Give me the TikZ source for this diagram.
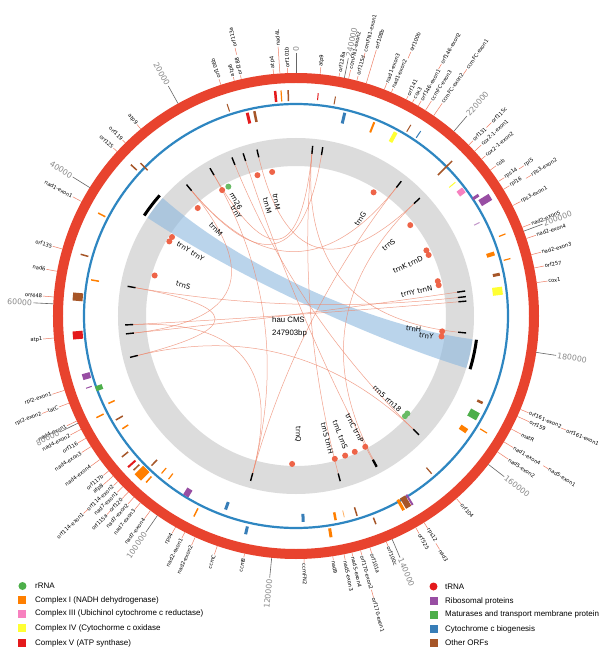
\documentclass[tikz,border=0pt]{standalone}
\usepackage{fontspec}
\setmainfont{Liberation Sans}
\newfontfamily\djv{DejaVu Sans}
\usepackage{xcolor}
\usepackage{tikz}

\definecolor{ringred}{HTML}{E8432E}
\definecolor{ringblue}{HTML}{2E86C1}
\definecolor{graytrack}{HTML}{DCDCDC}
\definecolor{ribbonblue}{HTML}{8CB8DF}
\definecolor{chordc}{HTML}{EE8A70}
\definecolor{dotc}{HTML}{EE6448}
\definecolor{leadc}{HTML}{EE7F66}
\definecolor{tickgray}{HTML}{8A8A8A}
\definecolor{setred}{HTML}{E41A1C}
\definecolor{setblue}{HTML}{377EB8}
\definecolor{setgreen}{HTML}{4DAF4A}
\definecolor{setpurple}{HTML}{984EA3}
\definecolor{setorange}{HTML}{FF7F00}
\definecolor{setyellow}{HTML}{FFFF33}
\definecolor{setbrown}{HTML}{A65628}
\definecolor{setpink}{HTML}{F781BF}

\begin{document}
\begin{tikzpicture}[x=1pt, y=1pt,
  lead/.style={leadc, line width=0.5pt},
  glab/.style={font=\djv\fontsize{5.2}{6}\selectfont, text=black, inner sep=0.5pt},
  maj/.style={black!60, line width=0.6pt},
  tlab/.style={font=\djv\fontsize{7.8}{9}\selectfont, text=tickgray, inner sep=1pt},
  chord/.style={chordc, line width=0.5pt, opacity=0.8},
  rmark/.style={black, line width=1.4pt},
  tdot/.style={circle, fill=dotc, inner sep=0pt, minimum size=6pt},
  rdot/.style={circle, fill=setgreen!85!white, inner sep=0pt, minimum size=6pt},
  tlabel/.style={font=\djv\fontsize{7}{8}\selectfont, inner sep=0.8pt},
  legtext/.style={font=\fontsize{8}{9}\selectfont, anchor=west, inner sep=0pt},
  legbox/.style={minimum size=8pt, inner sep=0pt}
]
\useasboundingbox (-296,-332) rectangle (304,316);
\fill[white] (-296,-332) rectangle (304,316);

\draw[graytrack, line width=28pt] (0,0) circle (164);

\fill[ribbonblue, opacity=0.6] (138.5:178) arc[start angle=138.5, end angle=146.5, radius=178] .. controls (146.5:75) and (-17:75) .. (-17:178) arc[start angle=-17, end angle=-7.5, radius=178] .. controls (-7.5:75) and (138.5:75) .. (138.5:178) -- cycle;
\draw[black, line width=3pt] (138.5:182) arc[start angle=138.5, end angle=146.5, radius=182];
\draw[black, line width=3pt] (-17:182) arc[start angle=-17, end angle=-7.5, radius=182];

\draw[chord] (108:166) .. controls (108:55) and (-62:55) .. (-62:166);
\draw[chord] (84.4:166) .. controls (84.4:55) and (-75:55) .. (-75:166);
\draw[chord] (120.2:166) .. controls (120.2:55) and (84.4:55) .. (84.4:166);
\draw[chord] (129.8:166) .. controls (129.8:55) and (52:55) .. (52:166);
\draw[chord] (103.2:166) .. controls (103.2:55) and (43.6:55) .. (43.6:166);
\draw[chord] (170:166) .. controls (170:55) and (6.5:55) .. (6.5:166);
\draw[chord] (183:166) .. controls (183:55) and (5:55) .. (5:166);
\draw[chord] (186:166) .. controls (186:55) and (8.4:55) .. (8.4:166);
\draw[chord] (194:166) .. controls (194:55) and (-44:55) .. (-44:166);
\draw[chord] (254.6:166) .. controls (254.6:55) and (120.2:55) .. (120.2:166);
\draw[chord] (254.6:166) .. controls (254.6:55) and (52:55) .. (52:166);
\draw[chord] (84.4:166) .. controls (84.4:55) and (-5.7:55) .. (-5.7:166);
\draw[chord] (43.6:166) .. controls (43.6:55) and (-61.7:55) .. (-61.7:166);
\draw[chord] (129.8:166) .. controls (129.8:55) and (186:55) .. (186:166);
\draw[chord] (170:166) .. controls (170:55) and (194:55) .. (194:166);
\draw[chord] (112:166) .. controls (112:55) and (-44:55) .. (-44:166);
\draw[chord] (81:166) .. controls (81:55) and (129.8:55) .. (129.8:166);
\draw[chord] (183:166) .. controls (183:55) and (254.6:55) .. (254.6:166);

\draw[rmark] (129.8:163) -- (129.8:171);
\draw[rmark] (120.2:163) -- (120.2:171);
\draw[rmark] (112:163) -- (112:171);
\draw[rmark] (108:163) -- (108:171);
\draw[rmark] (103.2:163) -- (103.2:171);
\draw[rmark] (84.4:163) -- (84.4:171);
\draw[rmark] (81:163) -- (81:171);
\draw[rmark] (52:163) -- (52:171);
\draw[rmark] (43.6:163) -- (43.6:171);
\draw[rmark] (8.4:163) -- (8.4:171);
\draw[rmark] (6.5:163) -- (6.5:171);
\draw[rmark] (5:163) -- (5:171);
\draw[rmark] (-5.7:163) -- (-5.7:171);
\draw[rmark] (-44:163) -- (-44:171);
\draw[rmark] (-61.7:163) -- (-61.7:171);
\draw[rmark] (-62:163) -- (-62:171);
\draw[rmark] (-75:163) -- (-75:171);
\draw[rmark] (254.6:163) -- (254.6:171);
\draw[rmark] (194:163) -- (194:171);
\draw[rmark] (186:163) -- (186:171);
\draw[rmark] (183:163) -- (183:171);
\draw[rmark] (170:163) -- (170:171);

\draw[ringred, line width=10pt] (0,0) circle (238);
\draw[ringblue, line width=2.2pt] (0,0) circle (212);

\draw[setbrown, line width=1.5pt] (92:215) -- (92:226);
\draw[setred, line width=2.5pt] (95.3:215) -- (95.3:226);
\draw[setorange, line width=1.2pt] (93.8:215) -- (93.8:226);
\draw[setred, line width=3pt] (103.5:198) -- (103.5:209);
\draw[setbrown, line width=2.5pt] (101.5:198) -- (101.5:209);
\draw[setbrown, line width=1pt] (108:215) -- (108:223);
\draw[setred, line width=1pt] (84.3:217) -- (84.3:224);
\draw[setblue, line width=3pt] (76.5:198) -- (76.5:209);
\draw[setbrown, line width=1pt] (79.8:215) -- (79.8:223);
\draw[setorange, line width=2pt] (68:198) -- (68:209);
\draw[setyellow, line width=4pt] (61.5:198) -- (61.5:209);
\draw[setbrown, line width=1pt] (59:215) -- (59:223);
\draw[setblue, line width=1pt] (56:215) -- (56:223);
\draw[setbrown, line width=1.5pt] (44.8:200) -- (44.8:220);
\draw[setyellow, line width=1pt] (40:200) -- (40:208);
\draw[setpink, line width=6pt] (36.9:203) -- (36.9:210);
\draw[setpurple, line width=3pt] (33.5:212) -- (33.5:219);
\draw[setpurple, line width=7pt] (31.5:216) -- (31.5:228);
\draw[setpurple!60, line width=1pt] (27:200) -- (27:206);
\draw[setorange, line width=1.2pt] (21.4:218) -- (21.4:225);
\draw[setorange, line width=4pt] (17.5:200) -- (17.5:208);
\draw[setorange, line width=1.2pt] (15:215) -- (15:222);
\draw[setbrown, line width=3pt] (11.6:201) -- (11.6:208);
\draw[setyellow, line width=8pt] (7:198) -- (7:208);
\draw[setbrown, line width=2.5pt] (-25:200) -- (-25:206);
\draw[setgreen, line width=8pt] (-29:198) -- (-29:208);
\draw[setorange, line width=5pt] (-34:198) -- (-34:206);
\draw[setorange, line width=1.2pt] (-31.5:216) -- (-31.5:224);
\draw[setbrown, line width=1.2pt] (-49.3:200) -- (-49.3:208);
\draw[setbrown, line width=6pt] (-59.5:210) -- (-59.5:222);
\draw[setpurple, line width=2pt] (-58.3:210) -- (-58.3:222);
\draw[setorange, line width=3pt] (-61:210) -- (-61:222);
\draw[setblue, line width=3pt] (250:198) -- (250:206);
\draw[setblue, line width=3pt] (257:216) -- (257:224);
\draw[setblue, line width=3pt] (-88:198) -- (-88:206);
\draw[setorange, line width=3pt] (-81:215) -- (-81:224);
\draw[setorange, line width=2.5pt] (-79:200) -- (-79:208);
\draw[setorange!60, line width=0.8pt] (-76.5:200) -- (-76.5:207);
\draw[setbrown, line width=1.5pt] (-73:200) -- (-73:209);
\draw[setbrown, line width=1.5pt] (-69:216) -- (-69:223);
\draw[setpurple, line width=6pt] (238.5:203) -- (238.5:211);
\draw[setorange, line width=1.5pt] (243:216) -- (243:225);
\draw[setorange, line width=9pt] (225.6:214) -- (225.6:226);
\draw[setred, line width=2pt] (222:216) -- (222:226);
\draw[setbrown, line width=1.5pt] (226:200) -- (226:208);
\draw[setbrown, line width=1.5pt] (219:216) -- (219:224);
\draw[setbrown, line width=1.5pt] (223.5:216) -- (223.5:224);
\draw[setorange, line width=1.5pt] (228:216) -- (228:224);
\draw[setorange, line width=1.2pt] (229.5:200) -- (229.5:207);
\draw[setorange, line width=1.2pt] (232:200) -- (232:207);
\draw[setbrown, line width=1.5pt] (164:216) -- (164:224);
\draw[setorange, line width=1.5pt] (170:200) -- (170:208);
\draw[setbrown, line width=8pt] (175:214) -- (175:224);
\draw[setred, line width=8pt] (185:214) -- (185:224);
\draw[setpurple, line width=6pt] (196:214) -- (196:222);
\draw[setgreen, line width=5pt] (200:206) -- (200:213);
\draw[setpurple, line width=1pt] (199:216) -- (199:222);
\draw[setorange, line width=1.5pt] (205:200) -- (205:207);
\draw[setorange, line width=1.5pt] (207:216) -- (207:224);
\draw[setbrown, line width=1.5pt] (210:200) -- (210:208);
\draw[setorange, line width=1.5pt] (213:200) -- (213:207);
\draw[setbrown, line width=1.5pt] (137.5:216) -- (137.5:224);
\draw[setbrown, line width=1.5pt] (135.5:208) -- (135.5:218);
\draw[setorange, line width=1.5pt] (152.5:215) -- (152.5:223);

\node[tdot] (d1) at (99.4:146) {};
\node[tdot] (d2) at (105.3:146) {};
\node[tdot] (d3) at (120.4:146) {};
\node[tdot] (d4) at (132.3:146) {};
\node[tdot] (d5) at (147.5:147) {};
\node[tdot] (d6) at (149.5:147) {};
\node[tdot] (d7) at (164:147) {};
\node[tdot] (d8) at (57.9:146) {};
\node[tdot] (d9) at (38.5:146) {};
\node[tdot] (d10) at (26.7:146) {};
\node[tdot] (d11) at (24.7:146) {};
\node[tdot] (d12) at (13.8:146) {};
\node[tdot] (d13) at (12.2:146) {};
\node[tdot] (d14) at (-6:147) {};
\node[tdot] (d15) at (-8:147) {};
\node[tdot] (d16) at (-62.1:148) {};
\node[tdot] (d17) at (-66.6:148) {};
\node[tdot] (d18) at (-70.6:148) {};
\node[tdot] (d19) at (-74.8:148) {};
\node[tdot] (d20) at (-91.5:148) {};
\node[rdot] (r1) at (117.6:146) {};
\node[rdot] (r2) at (-41.2:148) {};
\node[rdot] (r3) at (-42.6:148) {};

\node[tlabel, rotate=-80.3, anchor=west] (tM1) at (99.7:125) {trnM};
\node[tlabel, rotate=-75.4, anchor=west] (tM2) at (104.6:123) {trnM};
\node[tlabel, rotate=-62.4, anchor=west] (rr26) at (117.6:140) {rrn26};
\node[tlabel, rotate=-60, anchor=west] (tY1) at (120:128) {trnY};
\node[tlabel, rotate=-47.2, anchor=west] (tM3) at (132.8:127) {trnM};
\node[tlabel, rotate=-31.5, anchor=west] (tYY) at (148.5:140) {trnY trnY};
\node[tlabel, rotate=-15.3, anchor=west] (tS1) at (164.7:125) {trnS};
\node[tlabel, rotate=56.4, anchor=east] (tG) at (56.4:125) {trnG};
\node[tlabel, rotate=37.5, anchor=east] (tS2) at (37.5:125) {trnS};
\node[tlabel, rotate=24.5, anchor=east] (tKD) at (24.5:140) {trnK trnD};
\node[tlabel, rotate=11.5, anchor=east] (tYN) at (11.5:140) {trnY trnN};
\node[tlabel, rotate=-6.3, anchor=east] (tH) at (-6.3:127) {trnH};
\node[tlabel, rotate=-8.7, anchor=east] (tY3) at (-8.7:140) {trnY};
\node[tlabel, rotate=-42.3, anchor=east] (rr518) at (-42.3:142) {rrn5 rrn18};
\node[tlabel, rotate=-62.4, anchor=east] (tCP) at (-62.4:143) {trnC trnP};
\node[tlabel, rotate=-69.6, anchor=east] (tLS) at (-69.6:143) {trnL trnS};
\node[tlabel, rotate=-75.7, anchor=east] (tSH) at (-75.7:143) {trnS trnH};
\node[tlabel, rotate=-89, anchor=east] (tQ) at (-89:127) {trnQ};

\draw[lead] (92:243) -- (92:248) node[glab, rotate=92, anchor=west] (orf101b) {orf101b};
\draw[lead] (95.3:243) -- (95.3:248) node[glab, rotate=95.3, anchor=west] (atp4) {atp4};
\draw[lead] (93.8:243) -- (93.8:270) node[glab, rotate=93.8, anchor=west] (nad4L) {nad4L};
\draw[lead] (103:243) -- (103:247) node[glab, rotate=103, anchor=west] (orf288) {orf288};
\draw[lead] (104.7:243) -- (104.7:247) node[glab, rotate=104.7, anchor=west] (atp6) {atp6};
\draw[lead] (102.8:268) -- (102.8:275) node[glab, rotate=102.8, anchor=west] (orf113a) {orf113a};
\draw[lead] (108:243) -- (108:249) node[glab, rotate=108, anchor=west] (orf106b) {orf106b};
\draw[lead] (84.3:243) -- (84.3:250) node[glab, rotate=84.3, anchor=west] (atp9a) {atp9};
\draw[lead] (79.8:243) -- (79.8:247) node[glab, rotate=79.8, anchor=west] (orf128a) {orf128a};
\draw[lead] (77.5:243) -- (77.5:252) node[glab, rotate=77.5, anchor=west] (ccmFN1e2) {ccmFN1-exon2};
\draw[lead] (75.5:243) -- (75.5:248) node[glab, rotate=75.5, anchor=west] (orf115d) {orf115d};
\draw[lead] (75.3:267) -- (75.3:272) node[glab, rotate=75.3, anchor=west] (ccmFN1e1) {ccmFN1-exon1};
\draw[lead] (73.2:243) -- (73.2:278) node[glab, rotate=73.2, anchor=west] (orf108b) {orf108b};
\draw[lead] (68.7:243) -- (68.7:250) node[glab, rotate=68.7, anchor=west] (nad1e3) {nad1-exon3};
\draw[lead] (66.9:243) -- (66.9:247) node[glab, rotate=66.9, anchor=west] (nad1e2) {nad1-exon2};
\draw[lead] (66.5:281) -- (66.5:288) node[glab, rotate=66.5, anchor=west] (orf100b) {orf100b};
\draw[lead] (63:243) -- (63:247) node[glab, rotate=63, anchor=west] (orf141) {orf141};
\draw[lead] (61.4:243) -- (61.4:247) node[glab, rotate=61.4, anchor=west] (cox3) {cox3};
\draw[lead] (59.8:243) -- (59.8:249) node[glab, rotate=59.8, anchor=west] (orf146e1) {orf146-exon1};
\draw[lead] (60:285) -- (60:291) node[glab, rotate=60, anchor=west] (orf146e2) {orf146-exon2};
\draw[lead] (57.8:243) -- (57.8:254) node[glab, rotate=57.8, anchor=west] (ccmFCe3) {ccmFC-exon3};
\draw[lead] (55.5:243) -- (55.5:258) node[glab, rotate=55.5, anchor=west] (ccmFCe2) {ccmFC-exon2};
\draw[lead] (55.3:294) -- (55.3:300) node[glab, rotate=55.3, anchor=west] (ccmFCe1) {ccmFC-exon1};
\draw[lead] (44.7:243) -- (44.7:249) node[glab, rotate=44.7, anchor=west] (orf131) {orf131};
\draw[lead] (44.7:268) -- (44.7:275) node[glab, rotate=44.7, anchor=west] (orf115c) {orf115c};
\draw[lead] (42.7:243) -- (42.7:252) node[glab, rotate=42.7, anchor=west] (cox21e1) {cox2-1-exon1};
\draw[lead] (40.2:243) -- (40.2:248) node[glab, rotate=40.2, anchor=west] (cox21e2) {cox2-1-exon2};
\draw[lead] (36.9:243) -- (36.9:250) node[glab, rotate=36.9, anchor=west] (cob) {cob};
\draw[lead] (33.6:243) -- (33.6:250) node[glab, rotate=33.6, anchor=west] (rps14) {rps14};
\draw[lead] (33.4:267) -- (33.4:273) node[glab, rotate=33.4, anchor=west] (rpl5) {rpl5};
\draw[lead] (31.4:243) -- (31.4:250) node[glab, rotate=31.4, anchor=west] (rpl16) {rpl16};
\draw[lead] (30.9:268) -- (30.9:274) node[glab, rotate=30.9, anchor=west] (rps3e2) {rps3-exon2};
\draw[lead] (27:243) -- (27:252) node[glab, rotate=27, anchor=west] (rps3e1) {rps3-exon1};
\draw[lead] (21.4:243) -- (21.4:252) node[glab, rotate=21.4, anchor=west] (nad2e5) {nad2-exon5};
\draw[lead] (18.6:243) -- (18.6:253) node[glab, rotate=18.6, anchor=west] (nad2e4) {nad2-exon4};
\draw[lead] (14.6:243) -- (14.6:253) node[glab, rotate=14.6, anchor=west] (nad2e3) {nad2-exon3};
\draw[lead] (11.4:243) -- (11.4:253) node[glab, rotate=11.4, anchor=west] (orf257) {orf257};
\draw[lead] (7.9:243) -- (7.9:254) node[glab, rotate=7.9, anchor=west] (cox1) {cox1};
\draw[lead] (-22.6:243) -- (-22.6:252) node[glab, rotate=-22.6, anchor=west] (orf161e2) {orf161-exon2};
\draw[lead] (-22.9:288) -- (-22.9:293) node[glab, rotate=-22.9, anchor=west] (orf161e1) {orf161-exon1};
\draw[lead] (-24.4:243) -- (-24.4:256) node[glab, rotate=-24.4, anchor=west] (orf159) {orf159};
\draw[lead] (-27.7:243) -- (-27.7:254) node[glab, rotate=-27.7, anchor=west] (matR) {matR};
\draw[lead] (-31.2:243) -- (-31.2:254) node[glab, rotate=-31.2, anchor=west] (nad1e4) {nad1-exon4};
\draw[lead] (-31.2:289) -- (-31.2:295) node[glab, rotate=-31.2, anchor=west] (nad5e1) {nad5-exon1};
\draw[lead] (-34:243) -- (-34:256) node[glab, rotate=-34, anchor=west] (nad5e2) {nad5-exon2};
\draw[lead] (-48.7:243) -- (-48.7:250) node[glab, rotate=-48.7, anchor=west] (orf104) {orf104};
\draw[lead] (-58.2:243) -- (-58.2:250) node[glab, rotate=-58.2, anchor=west] (rps12) {rps12};
\draw[lead] (-58.4:267) -- (-58.4:274) node[glab, rotate=-58.4, anchor=west] (nad3) {nad3};
\draw[lead] (-60.5:243) -- (-60.5:250) node[glab, rotate=-60.5, anchor=west] (orf525) {orf525};
\draw[lead] (-68.2:243) -- (-68.2:248) node[glab, rotate=-68.2, anchor=west] (orf100c) {orf100c};
\draw[lead] (-72.3:243) -- (-72.3:249) node[glab, rotate=-72.3, anchor=west] (orf101a) {orf101a};
\draw[lead] (-74.6:243) -- (-74.6:248) node[glab, rotate=-74.6, anchor=west] (orf170e2) {orf170-exon2};
\draw[lead] (-74.6:284) -- (-74.6:292) node[glab, rotate=-74.6, anchor=west] (orf170e1) {orf170-exon1};
\draw[lead] (-76.7:243) -- (-76.7:247) node[glab, rotate=-76.7, anchor=west] (nad5e4) {nad5-exon4};
\draw[lead] (-78.6:243) -- (-78.6:249) node[glab, rotate=-78.6, anchor=west] (nad5e3) {nad5-exon3};
\draw[lead] (-81.3:243) -- (-81.3:247) node[glab, rotate=-81.3, anchor=west] (nad9) {nad9};
\draw[lead] (-88.1:243) -- (-88.1:247) node[glab, rotate=-88.1, anchor=west] (ccmFN2) {ccmFN2};
\draw[lead] (257.8:243) -- (257.8:247) node[glab, rotate=77.8, anchor=east] (ccmB) {ccmB};
\draw[lead] (251.1:243) -- (251.1:252) node[glab, rotate=71.1, anchor=east] (ccmC) {ccmC};
\draw[lead] (245.5:243) -- (245.5:252) node[glab, rotate=65.5, anchor=east] (nad2e2) {nad2-exon2};
\draw[lead] (242.8:243) -- (242.8:250) node[glab, rotate=62.8, anchor=east] (nad2e1) {nad2-exon1};
\draw[lead] (240.3:243) -- (240.3:250) node[glab, rotate=60.3, anchor=east] (rps4) {rps4};
\draw[lead] (233.2:243) -- (233.2:253) node[glab, rotate=53.2, anchor=east] (nad7e4) {nad7-exon4};
\draw[lead] (230.2:243) -- (230.2:252) node[glab, rotate=50.2, anchor=east] (nad7e3) {nad7-exon3};
\draw[lead] (228.2:243) -- (228.2:252) node[glab, rotate=48.2, anchor=east] (nad7e2) {nad7-exon2};
\draw[lead] (226.4:243) -- (226.4:252) node[glab, rotate=46.4, anchor=east] (orf120) {orf120};
\draw[lead] (226.4:269) -- (226.4:274) node[glab, rotate=46.4, anchor=east] (orf115a) {orf115a};
\draw[lead] (224.6:243) -- (224.6:251) node[glab, rotate=44.6, anchor=east] (nad7e1) {nad7-exon1};
\draw[lead] (222.9:243) -- (222.9:249) node[glab, rotate=42.9, anchor=east] (orf114e2) {orf114-exon2};
\draw[lead] (222.9:284) -- (222.9:290) node[glab, rotate=42.9, anchor=east] (orf114e1) {orf114-exon1};
\draw[lead] (221.2:243) -- (221.2:256) node[glab, rotate=41.2, anchor=east] (atp8) {atp8};
\draw[lead] (219.6:243) -- (219.6:250) node[glab, rotate=39.6, anchor=east] (orf117b) {orf117b};
\draw[lead] (216.2:243) -- (216.2:254) node[glab, rotate=36.2, anchor=east] (nad4e4) {nad4-exon4};
\draw[lead] (212.5:243) -- (212.5:254) node[glab, rotate=32.5, anchor=east] (nad4e3) {nad4-exon3};
\draw[lead] (210.2:243) -- (210.2:252) node[glab, rotate=30.2, anchor=east] (orf116) {orf116};
\draw[lead] (207.8:243) -- (207.8:255) node[glab, rotate=27.8, anchor=east] (nad4e2) {nad4-exon2};
\draw[lead] (205.6:243) -- (205.6:254) node[glab, rotate=25.6, anchor=east] (nad4e1) {nad4-exon1};
\draw[lead] (201:243) -- (201:254) node[glab, rotate=21, anchor=east] (tatC) {tatC};
\draw[lead] (201:266) -- (201:272) node[glab, rotate=21, anchor=east] (rpl2e2) {rpl2-exon2};
\draw[lead] (197.8:243) -- (197.8:256) node[glab, rotate=17.8, anchor=east] (rpl2e1) {rpl2-exon1};
\draw[lead] (185.2:243) -- (185.2:254) node[glab, rotate=5.2, anchor=east] (atp1) {atp1};
\draw[lead] (175.5:243) -- (175.5:254) node[glab, rotate=-4.5, anchor=east] (orf448) {orf448};
\draw[lead] (169.4:243) -- (169.4:254) node[glab, rotate=-10.6, anchor=east] (nad6) {nad6};
\draw[lead] (164:243) -- (164:253) node[glab, rotate=-16, anchor=east] (orf135) {orf135};
\draw[lead] (151.9:243) -- (151.9:253) node[glab, rotate=-28.1, anchor=east] (nad1e1) {nad1-exon1};
\draw[lead] (137.4:243) -- (137.4:248) node[glab, rotate=-42.6, anchor=east] (orf125) {orf125};
\draw[lead] (134.6:243) -- (134.6:247) node[glab, rotate=-45.4, anchor=east] (orf119) {orf119};
\draw[lead] (129.7:243) -- (129.7:249) node[glab, rotate=-50.3, anchor=east] (atp9b) {atp9};

\draw[maj] (90:243) -- (90:263) node[tlab, rotate=90, anchor=west] (t0) {0};
\draw[maj] (119.04:243) -- (119.04:263) node[tlab, rotate=-60.96, anchor=east] (t20) {20000};
\draw[maj] (148.09:243) -- (148.09:263) node[tlab, rotate=-31.91, anchor=east] (t40) {40000};
\draw[maj] (177.13:243) -- (177.13:263) node[tlab, rotate=-2.87, anchor=east] (t60) {60000};
\draw[maj] (206.17:243) -- (206.17:263) node[tlab, rotate=26.17, anchor=east] (t80) {80000};
\draw[maj] (235.22:243) -- (235.22:263) node[tlab, rotate=55.22, anchor=east] (t100) {100000};
\draw[maj] (264.26:243) -- (264.26:263) node[tlab, rotate=84.26, anchor=east] (t120) {120000};
\draw[maj] (-66.7:243) -- (-66.7:263) node[tlab, rotate=-66.7, anchor=west] (t140) {140000};
\draw[maj] (-37.65:243) -- (-37.65:263) node[tlab, rotate=-37.65, anchor=west] (t160) {160000};
\draw[maj] (-8.61:243) -- (-8.61:263) node[tlab, rotate=-8.61, anchor=west] (t180) {180000};
\draw[maj] (20.43:243) -- (20.43:263) node[tlab, rotate=20.43, anchor=west] (t200) {200000};
\draw[maj] (49.48:243) -- (49.48:263) node[tlab, rotate=49.48, anchor=west] (t220) {220000};
\draw[maj] (78.52:243) -- (78.52:263) node[tlab, rotate=78.52, anchor=west] (t240) {240000};

\node[font=\fontsize{7.8}{9}\selectfont, anchor=west, inner sep=0pt] (title) at (-24,-4) {hau CMS};
\node[font=\fontsize{7.8}{9}\selectfont, anchor=west, inner sep=0pt] (size) at (-24,-17.5) {247903bp};

\node[circle, fill=setgreen, minimum size=8pt, inner sep=0pt] (lgrrna) at (-273.5,-270) {};
\node[legtext] (ltrrna) at (-261,-270) {rRNA};
\node[legbox, fill=setorange] (lgI) at (-273.5,-284) {};
\node[legtext] (ltI) at (-261,-284) {Complex I (NADH dehydrogenase)};
\node[legbox, fill=setpink] (lgIII) at (-273.5,-297.5) {};
\node[legtext] (ltIII) at (-261,-297.5) {Complex III (Ubichinol cytochrome c reductase)};
\node[legbox, fill=setyellow] (lgIV) at (-273.5,-312) {};
\node[legtext] (ltIV) at (-261,-312) {Complex IV (Cytochorme c oxidase};
\node[legbox, fill=setred] (lgV) at (-273.5,-327) {};
\node[legtext] (ltV) at (-261,-327) {Complex V (ATP synthase)};

\node[circle, fill=setred, minimum size=8pt, inner sep=0pt] (lgtrna) at (137.5,-270.5) {};
\node[legtext] (lttrna) at (149,-270.5) {tRNA};
\node[legbox, fill=setpurple] (lgrib) at (137.5,-285) {};
\node[legtext] (ltrib) at (149,-285) {Ribosomal proteins};
\node[legbox, fill=setgreen] (lgmat) at (137.5,-298.5) {};
\node[legtext] (ltmat) at (149,-298.5) {Maturases and transport membrane protein};
\node[legbox, fill=setblue] (lgccm) at (137.5,-313) {};
\node[legtext] (ltccm) at (149,-313) {Cytochrome c biogenesis};
\node[legbox, fill=setbrown] (lgorf) at (137.5,-327) {};
\node[legtext] (ltorf) at (149,-327) {Other ORFs};
\end{tikzpicture}
\end{document}
